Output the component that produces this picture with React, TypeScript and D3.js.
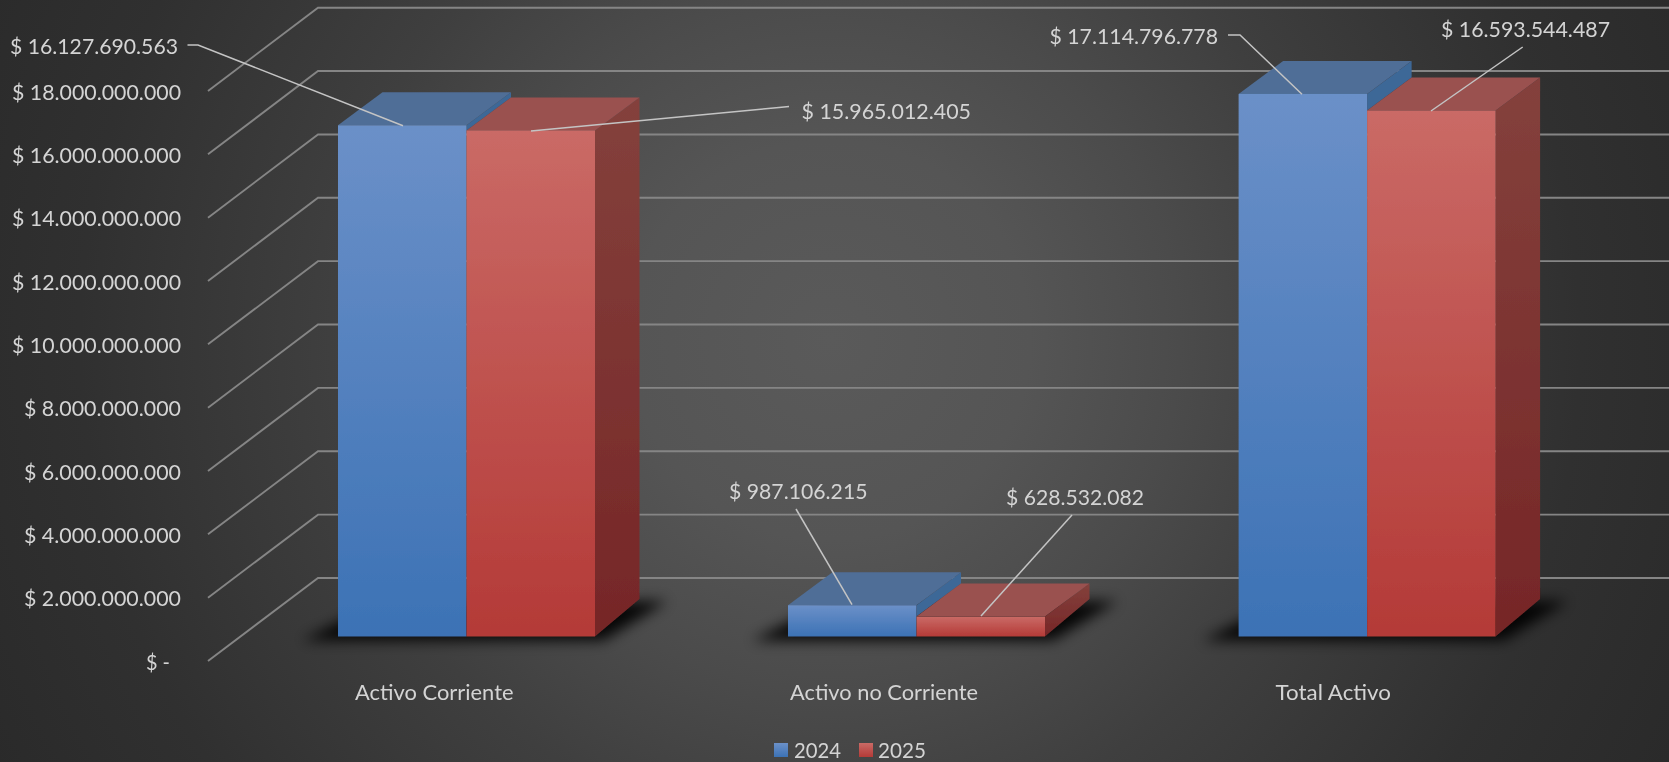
import React from "react";
import * as d3 from "d3";

const W = 1669, H = 762;
const categories = ["Activo Corriente", "Activo no Corriente", "Total Activo"];
const series2024 = [16127690563, 987106215, 17114796778];
const series2025 = [15965012405, 628532082, 16593544487];
const yearLabels = ["2024", "2025"];
const axisTicks = [0, 2e9, 4e9, 6e9, 8e9, 10e9, 12e9, 14e9, 16e9, 18e9];

const money = (v: number) =>
  v === 0 ? "$ -" : "$ " + d3.format(",")(v).replace(/,/g, ".");

const yFront = d3.scaleLinear().domain([0, 18e9]).range([661, 91]);
const yBack = d3.scaleLinear().domain([0, 18e9]).range([578, 7.7]);
const yBar = d3.scaleLinear().domain([0, 18e9]).range([636.5, 65.9]);
const xBand = d3.scaleLinear().domain([0, 1, 2]).range([338, 788, 1238.6]);

const BAR_W = 128.5, DX = 44.5, DY = 33, BASE_BACK = 599;
const FONT = "Lato, Carlito, sans-serif";
const TEXT = "#d4d4d4";
const LINE = "#858585";

// Label boxes: [left x, right x, centre y], then leader polyline.
const labelBoxes2024 = [
  { x0: 10, x1: 178, y: 46, leader: [[187.5, 45], [198, 45], [403, 125.7]] },
  { x0: 729, x1: 867.5, y: 491, leader: [[796, 509], [852, 604.7]] },
  { x0: 1049.5, x1: 1218, y: 36, leader: [[1228, 35], [1240, 35], [1302, 94.3]] },
];
const labelBoxes2025 = [
  { x0: 801.5, x1: 971, y: 111, leader: [[789, 106.5], [779, 107.5], [531, 131]] },
  { x0: 1006, x1: 1144, y: 497, leader: [[1072, 515], [981, 616]] },
  { x0: 1441, x1: 1610, y: 28.7, leader: [[1522.7, 47], [1431, 111]] },
];
const catBoxes = [
  { x0: 355, x1: 513.5, y: 692 },
  { x0: 790, x1: 978, y: 692 },
  { x0: 1275.6, x1: 1391, y: 692 },
];

const pts = (a: number[][]) => a.map((p) => p.join(",")).join(" ");
const line = d3.line();

function T({ x0, x1, y, s, size = 22 }: { x0: number; x1: number; y: number; s: string; size?: number }) {
  return (
    <text x={x0} y={y} dy="0.36em" textLength={x1 - x0} lengthAdjust="spacingAndGlyphs"
      fontFamily={FONT} fontSize={size} fill={TEXT}>{s}</text>
  );
}

function Stop({ a, b }: { a: string; b: string }) {
  return (<><stop offset="0" stopColor={a} /><stop offset="1" stopColor={b} /></>);
}

export default function App() {
  const y0 = yBar(0);
  return (
    <svg width={W} height={H} viewBox={`0 0 ${W} ${H}`} style={{ position: "absolute", left: 0, top: 0, display: "block" }}>
      <defs>
        <radialGradient id="bg" gradientUnits="userSpaceOnUse" cx="830" cy="340" r="1000">
          <stop offset="0" stopColor="#5a5a5a" />
          <stop offset="0.2" stopColor="#555555" />
          <stop offset="0.35" stopColor="#4b4b4b" />
          <stop offset="0.5" stopColor="#3f3f3f" />
          <stop offset="0.75" stopColor="#303030" />
          <stop offset="1" stopColor="#282828" />
        </radialGradient>
        <linearGradient id="fb" x1="0" y1="0" x2="0" y2="1"><Stop a="#6b90c8" b="#3c72b5" /></linearGradient>
        <linearGradient id="fr" x1="0" y1="0" x2="0" y2="1"><Stop a="#ca6a66" b="#b43a37" /></linearGradient>
        <linearGradient id="sr" x1="0" y1="0" x2="0" y2="1"><Stop a="#84413c" b="#762627" /></linearGradient>
        <filter id="sh" x="-20%" y="-60%" width="140%" height="220%"><feGaussianBlur stdDeviation="7" /></filter>
        <filter id="soft" x="0" y="0" width="100%" height="100%" filterUnits="userSpaceOnUse"
          primitiveUnits="userSpaceOnUse"><feGaussianBlur stdDeviation="0.5" /></filter>
      </defs>
      <rect width={W} height={H} fill="url(#bg)" />

      <g filter="url(#soft)">
        {axisTicks.map((t) => (
          <path key={t} fill="none" stroke={LINE} strokeWidth={1.9}
            d={line([[208, yFront(t)], [318, yBack(t)], [W, yBack(t)]] as [number, number][]) as string} />
        ))}
        {axisTicks.map((t) => (
          <text key={t} x={t === 0 ? 170 : 181} y={yFront(t) + 0.7} dy="0.36em" textAnchor="end"
            textLength={t === 0 ? 24 : t >= 10e9 ? 169 : 157} lengthAdjust="spacingAndGlyphs"
            fontFamily={FONT} fontSize={22} fill={TEXT}>{money(t)}</text>
        ))}

        {categories.map((c, i) => {
          const x = xBand(i);
          const xm = x + BAR_W, xr = xm + BAR_W;
          const tb = yBar(series2024[i]), tr = yBar(series2025[i]);
          return (
            <g key={c}>
              <polygon filter="url(#sh)" fill="#000000" fillOpacity={0.92}
                points={pts([[x + 40, BASE_BACK + 4], [xr + DX + 28, BASE_BACK + 2], [xr + 8, y0 + 4], [x - 36, y0 + 4]])} />
              {/* blue side, top, front */}
              <polygon fill="#3e6797" points={pts([[xm, tb], [xm + DX, tb - DY], [xm + DX, tr - DY], [xm, tr]])} />
              <polygon fill="#4f6e97" points={pts([[x, tb], [x + DX, tb - DY], [xm + DX, tb - DY], [xm, tb]])} />
              <rect x={x} y={tb} width={BAR_W} height={y0 - tb} fill="url(#fb)" />
              {/* red side, top, front */}
              <polygon fill="url(#sr)" points={pts([[xr, tr], [xr + DX, tr - DY], [xr + DX, BASE_BACK], [xr, y0]])} />
              <polygon fill="#9a5150" points={pts([[xm, tr], [xm + DX, tr - DY], [xr + DX, tr - DY], [xr, tr]])} />
              <rect x={xm} y={tr} width={BAR_W} height={y0 - tr} fill="url(#fr)" />
            </g>
          );
        })}

        {[...labelBoxes2024, ...labelBoxes2025].map((b, i) => (
          <polyline key={i} points={pts(b.leader)} fill="none" stroke="#c4c4c4" strokeWidth={1.5} />
        ))}
        {labelBoxes2024.map((b, i) => <T key={i} {...b} s={money(series2024[i])} />)}
        {labelBoxes2025.map((b, i) => <T key={i} {...b} s={money(series2025[i])} />)}
        {catBoxes.map((b, i) => <T key={i} {...b} s={categories[i]} />)}

        <rect x={774} y={743} width={14} height={14} fill="url(#fb)" />
        <rect x={859} y={743} width={14} height={14} fill="url(#fr)" />
        <T x0={794} x1={841} y={750} s={yearLabels[0]} />
        <T x0={878} x1={926} y={750} s={yearLabels[1]} />
      </g>
    </svg>
  );
}
